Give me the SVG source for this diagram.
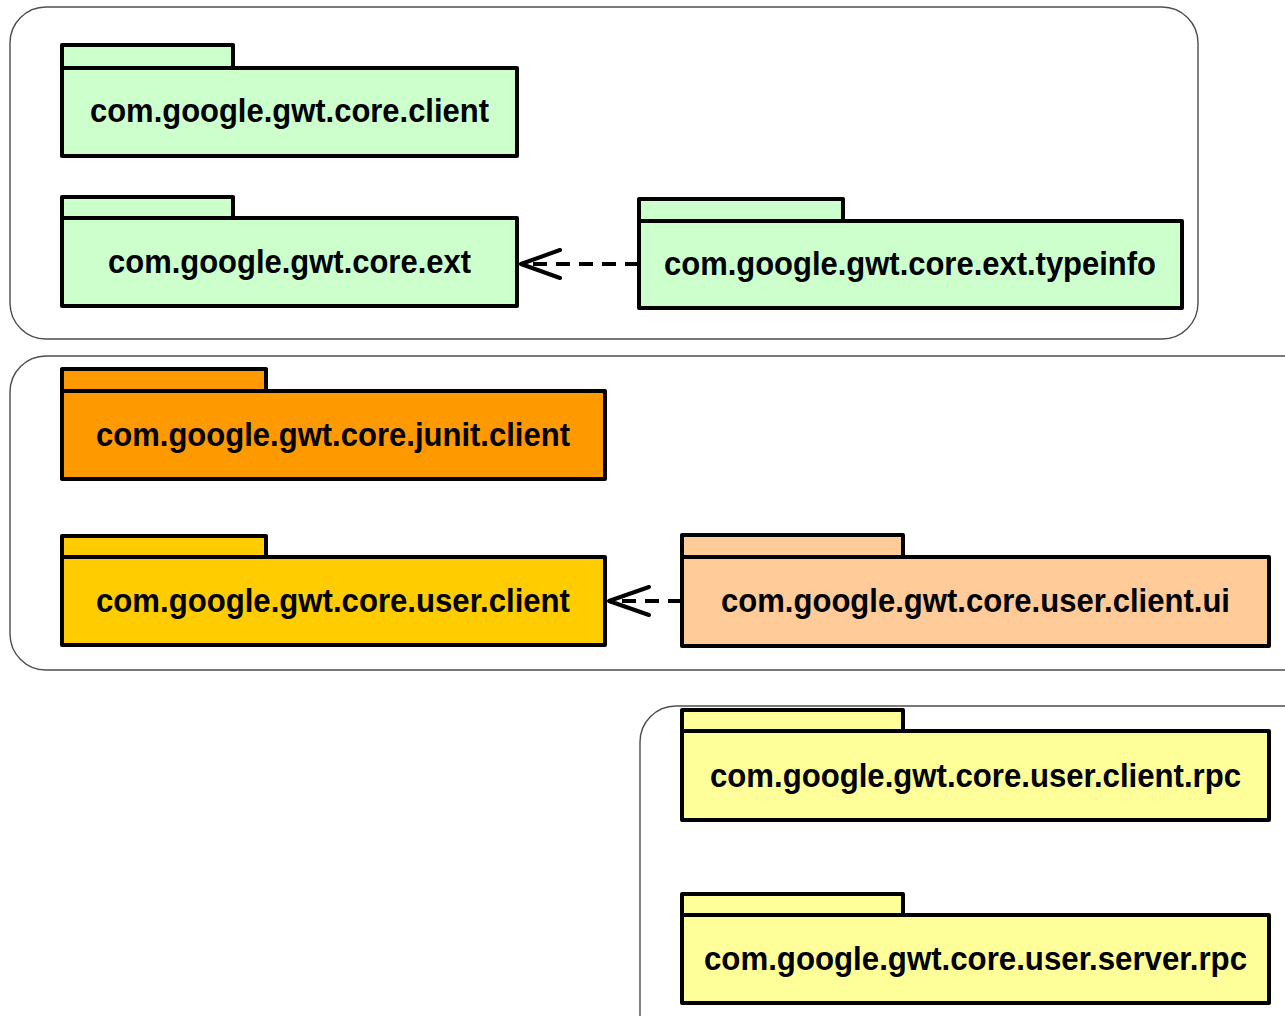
<svg xmlns="http://www.w3.org/2000/svg" width="1285" height="1016" viewBox="0 0 1285 1016">
<style>
.frame{fill:none;stroke:#4d4d4d;stroke-width:1.4}
.pk{stroke:#000;stroke-width:4;stroke-linejoin:round}
.lbl{font-family:"Liberation Sans",Arial,sans-serif;font-weight:bold;font-size:32.5px;text-anchor:middle;fill:#000}
.dep{fill:none;stroke:#000;stroke-width:4;stroke-dasharray:14,9}
.head{fill:none;stroke:#000;stroke-width:4;stroke-linecap:round;stroke-linejoin:round}
.g{fill:#CCFFCC}.o{fill:#FF9900}.y{fill:#FFCC00}.p{fill:#FFCC99}.ly{fill:#FFFF99}
</style>
<rect id="frame1" class="frame" x="10" y="7" width="1188" height="332" rx="36"/>
<rect id="frame2" class="frame" x="10" y="356" width="1320" height="314" rx="36"/>
<rect id="frame3" class="frame" x="640" y="706" width="700" height="360" rx="36"/>
<g id="connectors">
<path class="dep" d="M639 264H524"/>
<path class="head" d="M560 250L521 264L560 278"/>
<path class="dep" d="M682 601H611"/>
<path class="head" d="M649 587L609 601L649 615"/>
</g>
<g id="n1">
<rect class="pk g" x="62" y="45" width="171" height="23"/>
<rect class="pk g" x="62" y="68" width="455" height="88"/>
<text class="lbl" x="289.5" y="122" textLength="399" lengthAdjust="spacingAndGlyphs">com.google.gwt.core.client</text>
</g>
<g id="n2">
<rect class="pk g" x="62" y="197" width="171" height="21"/>
<rect class="pk g" x="62" y="218" width="455" height="88"/>
<text class="lbl" x="289.5" y="273" textLength="363" lengthAdjust="spacingAndGlyphs">com.google.gwt.core.ext</text>
</g>
<g id="n3">
<rect class="pk g" x="639" y="199" width="204" height="22"/>
<rect class="pk g" x="639" y="221" width="543" height="87"/>
<text class="lbl" x="910" y="275" textLength="492" lengthAdjust="spacingAndGlyphs">com.google.gwt.core.ext.typeinfo</text>
</g>
<g id="n4">
<rect class="pk o" x="62" y="369" width="204" height="22"/>
<rect class="pk o" x="62" y="391" width="543" height="88"/>
<text class="lbl" x="333" y="446" textLength="474" lengthAdjust="spacingAndGlyphs">com.google.gwt.core.junit.client</text>
</g>
<g id="n5">
<rect class="pk y" x="62" y="536" width="204" height="21"/>
<rect class="pk y" x="62" y="557" width="543" height="88"/>
<text class="lbl" x="333" y="612" textLength="474" lengthAdjust="spacingAndGlyphs">com.google.gwt.core.user.client</text>
</g>
<g id="n6">
<rect class="pk p" x="682" y="535" width="221" height="22"/>
<rect class="pk p" x="682" y="557" width="587" height="89"/>
<text class="lbl" x="975.5" y="612" textLength="509" lengthAdjust="spacingAndGlyphs">com.google.gwt.core.user.client.ui</text>
</g>
<g id="n7">
<rect class="pk ly" x="682" y="710" width="221" height="21"/>
<rect class="pk ly" x="682" y="731" width="587" height="89"/>
<text class="lbl" x="975.5" y="787" textLength="531" lengthAdjust="spacingAndGlyphs">com.google.gwt.core.user.client.rpc</text>
</g>
<g id="n8">
<rect class="pk ly" x="682" y="894" width="221" height="21"/>
<rect class="pk ly" x="682" y="915" width="587" height="88"/>
<text class="lbl" x="975.5" y="970" textLength="543" lengthAdjust="spacingAndGlyphs">com.google.gwt.core.user.server.rpc</text>
</g>
</svg>
